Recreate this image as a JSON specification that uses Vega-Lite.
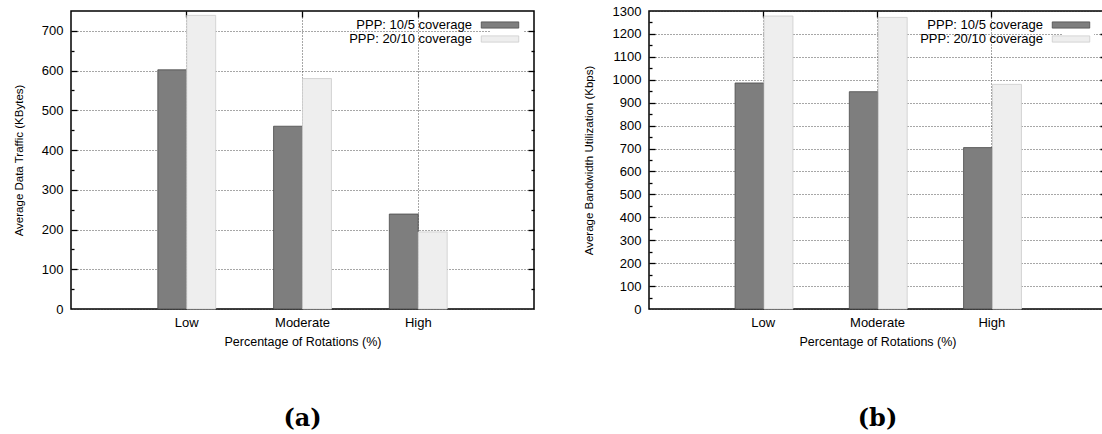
{
  "$schema": "https://vega.github.io/schema/vega-lite/v6.json",
  "padding": {"left": 12, "top": 4, "right": 0, "bottom": 0},
  "spacing": 46,
  "resolve": {"legend": {"fill": "independent", "stroke": "independent"}},
  "datasets": {
    "traffic": [
      {"rotation": "Low", "series": "PPP: 10/5 coverage", "value": 602},
      {"rotation": "Low", "series": "PPP: 20/10 coverage", "value": 739},
      {"rotation": "Moderate", "series": "PPP: 10/5 coverage", "value": 460},
      {"rotation": "Moderate", "series": "PPP: 20/10 coverage", "value": 580},
      {"rotation": "High", "series": "PPP: 10/5 coverage", "value": 239},
      {"rotation": "High", "series": "PPP: 20/10 coverage", "value": 194}
    ],
    "bandwidth": [
      {"rotation": "Low", "series": "PPP: 10/5 coverage", "value": 986},
      {"rotation": "Low", "series": "PPP: 20/10 coverage", "value": 1278},
      {"rotation": "Moderate", "series": "PPP: 10/5 coverage", "value": 948},
      {"rotation": "Moderate", "series": "PPP: 20/10 coverage", "value": 1272},
      {"rotation": "High", "series": "PPP: 10/5 coverage", "value": 704},
      {"rotation": "High", "series": "PPP: 20/10 coverage", "value": 980}
    ]
  },
  "hconcat": [
    {
      "width": 463,
      "height": 298,
      "title": {"text": "(a)", "orient": "bottom", "font": "DejaVu Serif", "fontWeight": "bold", "fontSize": 24, "offset": 59, "color": "black"},
      "data": {"name": "traffic"},
      "encoding": {
        "x": {"field": "rotation", "type": "nominal", "sort": ["Low", "Moderate", "High"], "scale": {"paddingInner": 0, "paddingOuter": 0.5}},
        "xOffset": {"field": "series", "type": "nominal", "scale": {"paddingInner": 0, "paddingOuter": 1}},
        "y": {"field": "value", "type": "quantitative", "scale": {"domain": [0, 750], "nice": false, "zero": true}}
      },
      "layer": [
        {
          "mark": {"type": "bar", "strokeWidth": 0.8},
          "encoding": {
            "x": {"field": "rotation", "type": "nominal", "sort": ["Low", "Moderate", "High"], "scale": {"paddingInner": 0, "paddingOuter": 0.5},
              "axis": {"orient": "bottom", "title": "Percentage of Rotations (%)", "labelAngle": 0, "ticks": false, "grid": true, "bandPosition": 0.5, "labelPadding": 7, "titlePadding": 6}},
            "y": {"field": "value", "type": "quantitative", "scale": {"domain": [0, 750], "nice": false},
              "axis": {"orient": "left", "title": "Average Data Traffic (KBytes)", "titleFontSize": 11.5, "format": "d", "values": [0, 100, 200, 300, 400, 500, 600, 700], "ticks": false, "grid": true, "labelPadding": 8, "titlePadding": 17}},
            "fill": {"field": "series", "type": "nominal", "scale": {"domain": ["PPP: 10/5 coverage", "PPP: 20/10 coverage"], "range": ["#7e7e7e", "#eeeeee"]},
              "legend": {"orient": "none", "legendX": 420, "legendY": 5}},
            "stroke": {"field": "series", "type": "nominal", "scale": {"domain": ["PPP: 10/5 coverage", "PPP: 20/10 coverage"], "range": ["#4a4a4a", "#cccccc"]}, "legend": null}
          }
        },
        {
          "mark": {"type": "bar", "opacity": 0},
          "encoding": {
            "x": {"field": "rotation", "type": "nominal", "sort": ["Low", "Moderate", "High"], "axis": {"orient": "top", "labels": false, "title": null, "grid": false, "tickSize": -6, "bandPosition": 0.5}},
            "y": {"field": "value", "type": "quantitative", "axis": {"orient": "left", "labels": false, "title": null, "grid": false, "tickSize": -6, "values": [100, 200, 300, 400, 500, 600, 700]}}
          }
        },
        {
          "mark": {"type": "bar", "opacity": 0},
          "encoding": {
            "x": {"field": "rotation", "type": "nominal", "sort": ["Low", "Moderate", "High"], "axis": null},
            "y": {"field": "value", "type": "quantitative", "axis": {"orient": "right", "labels": false, "title": null, "grid": false, "tickSize": -6, "values": [100, 200, 300, 400, 500, 600, 700]}}
          }
        },
        {
          "mark": {"type": "bar", "opacity": 0},
          "encoding": {
            "x": {"field": "rotation", "type": "nominal", "sort": ["Low", "Moderate", "High"], "axis": null},
            "y": {"field": "value", "type": "quantitative", "axis": {"orient": "left", "labels": false, "title": null, "grid": false, "tickSize": -3, "values": [50, 150, 250, 350, 450, 550, 650]}}
          }
        },
        {
          "mark": {"type": "bar", "opacity": 0},
          "encoding": {
            "x": {"field": "rotation", "type": "nominal", "sort": ["Low", "Moderate", "High"], "axis": null},
            "y": {"field": "value", "type": "quantitative", "axis": {"orient": "right", "labels": false, "title": null, "grid": false, "tickSize": -3, "values": [50, 150, 250, 350, 450, 550, 650]}}
          }
        }
      ],
      "resolve": {"axis": {"x": "independent", "y": "independent"}}
    },
    {
      "width": 457,
      "height": 298,
      "title": {"text": "(b)", "orient": "bottom", "font": "DejaVu Serif", "fontWeight": "bold", "fontSize": 24, "offset": 59, "color": "black"},
      "data": {"name": "bandwidth"},
      "encoding": {
        "x": {"field": "rotation", "type": "nominal", "sort": ["Low", "Moderate", "High"], "scale": {"paddingInner": 0, "paddingOuter": 0.5}},
        "xOffset": {"field": "series", "type": "nominal", "scale": {"paddingInner": 0, "paddingOuter": 1}},
        "y": {"field": "value", "type": "quantitative", "scale": {"domain": [0, 1300], "nice": false, "zero": true}}
      },
      "layer": [
        {
          "mark": {"type": "bar", "strokeWidth": 0.8},
          "encoding": {
            "x": {"field": "rotation", "type": "nominal", "sort": ["Low", "Moderate", "High"], "scale": {"paddingInner": 0, "paddingOuter": 0.5},
              "axis": {"orient": "bottom", "title": "Percentage of Rotations (%)", "labelAngle": 0, "ticks": false, "grid": true, "bandPosition": 0.5, "labelPadding": 7, "titlePadding": 6}},
            "y": {"field": "value", "type": "quantitative", "scale": {"domain": [0, 1300], "nice": false},
              "axis": {"orient": "left", "title": "Average Bandwidth Utilization (Kbps)", "titleFontSize": 11.5, "format": "d", "values": [0, 100, 200, 300, 400, 500, 600, 700, 800, 900, 1000, 1100, 1200, 1300], "ticks": false, "grid": true, "labelPadding": 8, "titlePadding": 18}},
            "fill": {"field": "series", "type": "nominal", "scale": {"domain": ["PPP: 10/5 coverage", "PPP: 20/10 coverage"], "range": ["#7e7e7e", "#eeeeee"]},
              "legend": {"orient": "none", "legendX": 413, "legendY": 5}},
            "stroke": {"field": "series", "type": "nominal", "scale": {"domain": ["PPP: 10/5 coverage", "PPP: 20/10 coverage"], "range": ["#4a4a4a", "#cccccc"]}, "legend": null}
          }
        },
        {
          "mark": {"type": "bar", "opacity": 0},
          "encoding": {
            "x": {"field": "rotation", "type": "nominal", "sort": ["Low", "Moderate", "High"], "axis": {"orient": "top", "labels": false, "title": null, "grid": false, "tickSize": -6, "bandPosition": 0.5}},
            "y": {"field": "value", "type": "quantitative", "axis": {"orient": "left", "labels": false, "title": null, "grid": false, "tickSize": -6, "values": [100, 200, 300, 400, 500, 600, 700, 800, 900, 1000, 1100, 1200]}}
          }
        },
        {
          "mark": {"type": "bar", "opacity": 0},
          "encoding": {
            "x": {"field": "rotation", "type": "nominal", "sort": ["Low", "Moderate", "High"], "axis": null},
            "y": {"field": "value", "type": "quantitative", "axis": {"orient": "right", "labels": false, "title": null, "grid": false, "tickSize": -6, "values": [100, 200, 300, 400, 500, 600, 700, 800, 900, 1000, 1100, 1200]}}
          }
        },
        {
          "mark": {"type": "bar", "opacity": 0},
          "encoding": {
            "x": {"field": "rotation", "type": "nominal", "sort": ["Low", "Moderate", "High"], "axis": null},
            "y": {"field": "value", "type": "quantitative", "axis": {"orient": "left", "labels": false, "title": null, "grid": false, "tickSize": -3, "values": [50, 150, 250, 350, 450, 550, 650, 750, 850, 950, 1050, 1150, 1250]}}
          }
        },
        {
          "mark": {"type": "bar", "opacity": 0},
          "encoding": {
            "x": {"field": "rotation", "type": "nominal", "sort": ["Low", "Moderate", "High"], "axis": null},
            "y": {"field": "value", "type": "quantitative", "axis": {"orient": "right", "labels": false, "title": null, "grid": false, "tickSize": -3, "values": [50, 150, 250, 350, 450, 550, 650, 750, 850, 950, 1050, 1150, 1250]}}
          }
        }
      ],
      "resolve": {"axis": {"x": "independent", "y": "independent"}}
    }
  ],
  "config": {
    "background": "white",
    "font": "Liberation Sans",
    "view": {"stroke": "black", "strokeWidth": 1.5, "fill": "white"},
    "title": {"color": "black"},
    "axis": {
      "labelFont": "Liberation Sans",
      "titleFont": "Liberation Sans",
      "labelFontSize": 13,
      "titleFontSize": 12.5,
      "labelColor": "black",
      "titleColor": "black",
      "titleFontWeight": "normal",
      "domain": false,
      "gridColor": "#222222",
      "gridDash": [1, 2],
      "gridWidth": 0.8,
      "gridOpacity": 1,
      "tickColor": "black",
      "tickWidth": 1.3
    },
    "legend": {
      "title": null,
      "labelFont": "Liberation Sans",
      "labelFontSize": 13,
      "labelColor": "black",
      "labelAlign": "right",
      "labelOffset": -35,
      "labelLimit": 0,
      "symbolType": "M-3,-0.5H3V0.5H-3Z",
      "symbolSize": 156,
      "symbolStrokeWidth": 0.8,
      "symbolOpacity": 1,
      "rowPadding": -1,
      "padding": 2,
      "fillColor": "white"
    }
  }
}
